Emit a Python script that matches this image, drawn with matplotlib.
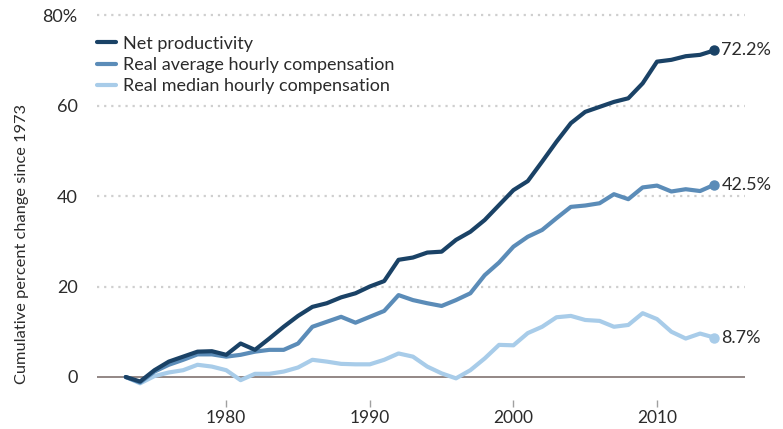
import matplotlib.pyplot as plt

plt.rcParams["font.family"] = ["Lato", "DejaVu Sans"]

# Cumulative percent change since 1973
years = list(range(1973, 2015))
net_productivity = [
    0.0, -1.0, 1.5, 3.4, 4.5, 5.6, 5.7, 4.9, 7.4, 6.0,
    8.5, 11.1, 13.5, 15.5, 16.3, 17.6, 18.5, 20.0, 21.2, 25.9,
    26.4, 27.5, 27.7, 30.3, 32.1, 34.7, 38.0, 41.3, 43.3, 47.6,
    52.0, 56.1, 58.6, 59.7, 60.8, 61.6, 64.9, 69.7, 70.1, 70.9,
    71.2, 72.2,
]
avg_compensation = [
    0.0, -1.2, 1.2, 2.7, 3.8, 5.0, 5.0, 4.5, 4.9, 5.6,
    6.0, 6.0, 7.4, 11.1, 12.2, 13.3, 12.0, 13.3, 14.6, 18.1,
    17.0, 16.3, 15.7, 17.0, 18.5, 22.5, 25.3, 28.8, 31.0, 32.5,
    35.1, 37.6, 37.9, 38.4, 40.4, 39.3, 41.9, 42.3, 41.0, 41.5,
    41.1, 42.5,
]
median_compensation = [
    0.0, -1.4, 0.2, 1.0, 1.5, 2.7, 2.3, 1.5, -0.7, 0.7,
    0.7, 1.2, 2.1, 3.8, 3.4, 2.9, 2.8, 2.8, 3.8, 5.2,
    4.5, 2.3, 0.8, -0.3, 1.5, 4.1, 7.1, 7.0, 9.7, 11.1,
    13.2, 13.5, 12.6, 12.4, 11.1, 11.5, 14.1, 12.8, 10.0, 8.5,
    9.6, 8.7,
]
series_names = [
    "Net productivity",
    "Real average hourly compensation",
    "Real median hourly compensation",
]
end_labels = ["72.2%", "42.5%", "8.7%"]
y_ticks = [0, 20, 40, 60, 80]
y_tick_labels = ["0", "20", "40", "60", "80%"]
x_ticks = [1980, 1990, 2000, 2010]

COLORS = ["#1a4266", "#5b8cb8", "#a8cce9"]
TEXT = "#2b2b2b"
FS = 13

fig = plt.figure(figsize=(7.83, 4.29), dpi=100)
ax = fig.add_axes([0.1239, 0.0685, 0.8276, 0.907])

for y in y_ticks[1:]:
    ax.axhline(y, color="#cfcfcf", lw=1.6, ls=(0, (1, 2.2)), zorder=1)
ax.axhline(0, color="#8a7e7c", lw=1.3, zorder=2)

all_series = [net_productivity, avg_compensation, median_compensation]
# draw light series first so the darker ones sit on top
for vals, name, color in reversed(list(zip(all_series, series_names, COLORS))):
    ax.plot(years, vals, color=color, lw=3.0, label=name, zorder=3,
            solid_joinstyle="round", solid_capstyle="round")
    ax.plot(years[-1], vals[-1], "o", color=color, ms=6.5, zorder=4)

for vals, lab in zip(all_series, end_labels):
    ax.annotate(lab, (years[-1], vals[-1]), xytext=(5, 0), textcoords="offset points",
                va="center", ha="left", fontsize=FS, color=TEXT, zorder=5,
                annotation_clip=False)

ax.set_xlim(1971.0, 2016.13)
ax.set_ylim(-5, 81)
ax.set_yticks(y_ticks)
ax.set_yticklabels(y_tick_labels)
ax.set_xticks(x_ticks)
ax.tick_params(axis="y", length=0, pad=14, labelsize=FS, labelcolor=TEXT)
ax.tick_params(axis="x", length=5, width=1, color="#a0a0a0", pad=2.5,
               labelsize=12.5, labelcolor=TEXT)
for s in ax.spines.values():
    s.set_visible(False)

handles, labels = ax.get_legend_handles_labels()
leg = ax.legend(handles[::-1], labels[::-1], loc="upper left",
                bbox_to_anchor=(-0.006, 0.945), frameon=True, fontsize=FS,
                handlelength=1.05, handletextpad=0.4, labelspacing=0.3,
                borderpad=0.2, borderaxespad=0)
leg.get_frame().set_facecolor("white")
leg.get_frame().set_edgecolor("none")
leg.get_frame().set_alpha(1)
for t in leg.get_texts():
    t.set_color(TEXT)

fig.text(22 / 783, 1 - 244 / 429, "Cumulative percent change since 1973",
         rotation=90, ha="center", va="center", fontsize=11.8, color=TEXT)

fig.savefig("out.png", dpi=100)
